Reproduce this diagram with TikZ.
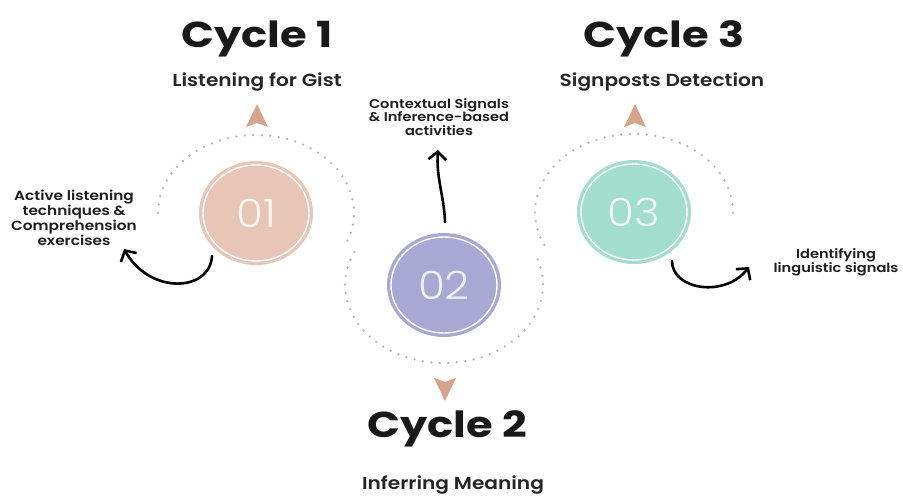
\documentclass[tikz,border=0pt]{standalone}
\usepackage{fontspec}
\setmainfont{Poppins}[FakeStretch=1.2]
\newfontfamily\semib{Poppins}[UprightFont=* SemiBold, FakeStretch=1.15]
\newfontfamily\numfont{Poppins}[UprightFont=* Light, FakeStretch=1.12]
\usetikzlibrary{arrows.meta,shapes.geometric}
\definecolor{peach}{RGB}{214,164,138}
\definecolor{cone}{RGB}{231,197,183}
\definecolor{ctwo}{RGB}{169,167,212}
\definecolor{cthree}{RGB}{163,221,206}
\definecolor{dotgray}{RGB}{185,182,186}
\tikzset{
  stepcirc/.style={ellipse, minimum width=114pt, minimum height=104pt, inner sep=0pt,
    font=\numfont\fontsize{39}{39}\selectfont},
  ring/.style={white, line width=1.4pt},
  heading/.style={font=\bfseries\fontsize{36}{40}\selectfont, anchor=base, text=black!90},
  subhead/.style={font=\semib\fontsize{17.5}{20}\selectfont, anchor=base, text=black!85},
  note/.style={font=\semib\fontsize{12.7}{13.8}\selectfont, align=center, text=black!88},
  bignote/.style={note, font=\semib\fontsize{13.3}{14.8}\selectfont},
  dots/.style={dotgray, line width=2.6pt, line cap=round, dash pattern=on 0pt off 8.5pt},
  curvy/.style={line width=2.6pt, line cap=round, -{Straight Barb[length=8pt,width=18pt]}},
  marker/.style={fill=peach},
}
\begin{document}
\begin{tikzpicture}[x=1pt,y=-1pt]
\useasboundingbox (0,0) rectangle (903,496);

% dotted wave
\coordinate (o1) at (256,213);
\coordinate (o2) at (444,285);
\coordinate (o3) at (634,212);
\draw[dots] (o1) ++(180:98 and 78) arc[start angle=180, end angle=385, x radius=98, y radius=78];
\draw[dots] (o2) ++(205:99 and 78) arc[start angle=205, end angle=-25, x radius=99, y radius=78];
\draw[dots] (o3) ++(155:99 and 78) arc[start angle=155, end angle=363, x radius=99, y radius=78];

% step circles
\node[stepcirc, fill=cone, text=white!82!cone] (c1) at (o1) {01};
\draw[ring] (c1.center) ellipse [x radius=53, y radius=48];
\node[stepcirc, fill=ctwo, text=white!82!ctwo] (c2) at (o2) {02};
\draw[ring] (c2.center) ellipse [x radius=53, y radius=48];
\node[stepcirc, fill=cthree, text=white!82!cthree] (c3) at (o3) {03};
\draw[ring] (c3.center) ellipse [x radius=53, y radius=48];

% triangle markers
\fill[marker] (257,104) -- (268,127) -- (257,123) -- (246,127) -- cycle;
\fill[marker] (635,104) -- (646,127) -- (635,123) -- (624,127) -- cycle;
\fill[marker] (445,401) -- (456,378) -- (445,382) -- (434,378) -- cycle;

% headings
\node[heading] (h1) at (257,47) {Cycle 1};
\node[subhead] (s1) at (257,86) {Listening for Gist};
\node[heading] (h3) at (664,47) {Cycle 3};
\node[subhead] (s3) at (662,86) {Signposts Detection};
\node[heading] (h2) at (447,437) {Cycle 2};
\node[subhead] (s2) at (453,489) {Inferring Meaning};

% notes
\node[bignote] (t1) at (74,218) {Active listening\\techniques \&\\Comprehension\\exercises};
\node[note] (t2) at (439,117) {Contextual Signals\\\& Inference-based\\activities};
\node[note] (t3) at (836,262) {Identifying\\linguistic signals};

% curved arrows
\coordinate (a1s) at ([shift={(-44,43)}]c1.center);
\coordinate (a1e) at (124,249);
\draw[curvy] (a1s) .. controls (210,292) and (150,295) .. (a1e);
\coordinate (a2s) at ([shift={(1,-63)}]c2.center);
\coordinate (a2e) at (438,150);
\draw[curvy] (a2s) .. controls (444,195) and (436,178) .. (a2e);
\coordinate (a3s) at ([shift={(38,49)}]c3.center);
\coordinate (a3e) at (749,267);
\draw[curvy] (a3s) .. controls (672,290) and (725,298) .. (a3e);
\end{tikzpicture}
\end{document}
